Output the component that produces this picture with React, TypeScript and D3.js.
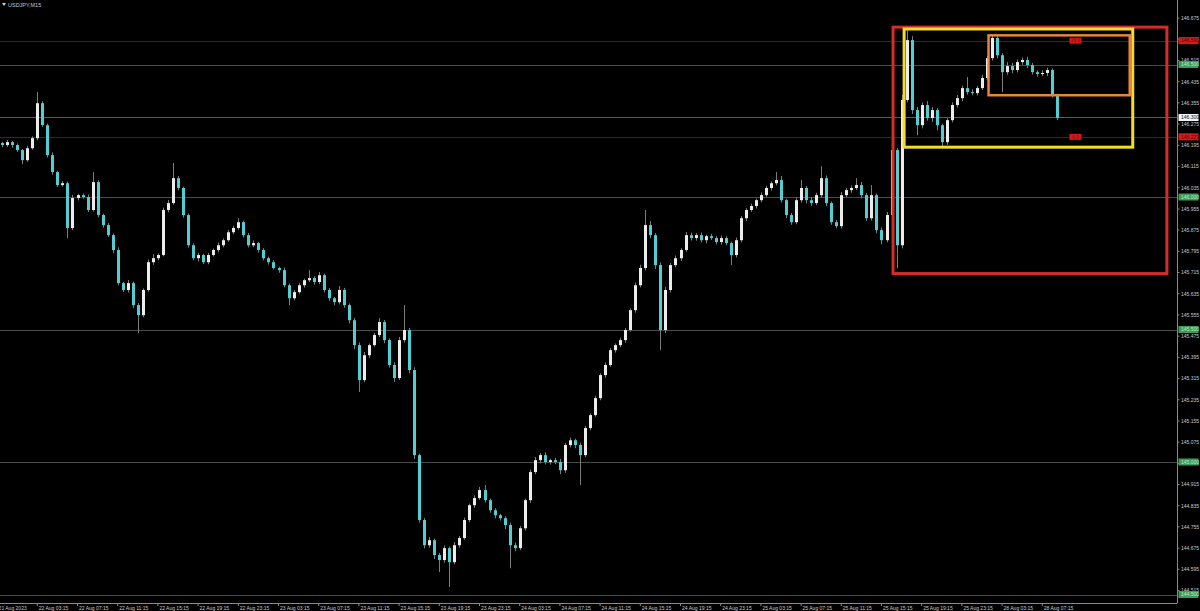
import React from "react";
import * as d3 from "d3";

// ---- DATA (USDJPY M15 chart, aggregated to 30-min candles) ----
const firstOpen = 146.196;

const closes = [
  146.204, 146.196, 146.207, 146.196, 146.177, 146.139, 146.184, 146.222,
  146.354, 146.271, 146.158, 146.094, 146.045, 146.052, 145.883, 145.996, 146.007, 146.000,
  145.951, 146.056, 145.932, 145.894, 145.856, 145.800, 145.675, 145.649, 145.675, 145.592,
  145.554, 145.649, 145.754, 145.769, 145.781, 145.951, 145.977, 146.071, 146.034, 145.932,
  145.818, 145.769, 145.781, 145.754, 145.781, 145.800, 145.818, 145.837, 145.867, 145.883,
  145.905, 145.856, 145.818, 145.826, 145.800, 145.769, 145.754, 145.732, 145.724, 145.667,
  145.618, 145.641, 145.667, 145.686, 145.694, 145.679, 145.705, 145.649, 145.618, 145.603,
  145.649, 145.592, 145.535, 145.441, 145.309, 145.403, 145.441, 145.479, 145.528, 145.460,
  145.366, 145.317, 145.460, 145.498, 145.347, 145.026, 144.781, 144.686, 144.705, 144.649,
  144.630, 144.675, 144.622, 144.686, 144.713, 144.781, 144.837, 144.864, 144.894, 144.856,
  144.818, 144.799, 144.788, 144.762, 144.686, 144.675, 144.750, 144.856, 144.962, 145.007,
  145.026, 145.000, 145.007, 145.000, 144.969, 145.064, 145.082, 145.064, 145.026, 145.128,
  145.177, 145.241, 145.328, 145.366, 145.422, 145.441, 145.460, 145.498, 145.573, 145.667,
  145.732, 145.894, 145.856, 145.743, 145.498, 145.649, 145.743, 145.769, 145.800, 145.856,
  145.845, 145.856, 145.837, 145.852, 145.845, 145.830, 145.845, 145.826, 145.781, 145.837,
  145.920, 145.951, 145.966, 145.988, 146.007, 146.034, 146.052, 146.064, 145.988, 145.932,
  145.905, 145.988, 146.034, 145.988, 145.977, 146.007, 146.071, 145.977, 145.905, 145.890,
  146.007, 146.026, 146.034, 146.045, 146.007, 145.920, 146.007, 145.875, 145.837, 145.932,
  146.177, 145.818, 146.366, 146.592, 146.328, 146.271, 146.347, 146.298, 146.328, 146.271,
  146.207, 146.290, 146.347, 146.373, 146.411, 146.396, 146.392, 146.411, 146.449, 146.524,
  146.600, 146.535, 146.471, 146.494, 146.479, 146.509, 146.517, 146.498, 146.471, 146.464,
  146.468, 146.479, 146.385, 146.298,
];

// upper / lower wick lengths in points (0.001)
const upWick = [
  6, 4, 8, 5, 6, 4, 9, 7,
  42, 8, 6, 10, 5, 8, 6, 12, 5, 6,
  9, 38, 7, 5, 8, 6, 10, 5, 12, 6,
  8, 6, 10, 15, 6, 9, 12, 57, 8, 5,
  6, 7, 9, 5, 8, 6, 10, 7, 9, 8,
  15, 6, 8, 10, 5, 7, 6, 8, 5, 10,
  6, 8, 9, 6, 30, 7, 12, 6, 8, 5,
  15, 8, 6, 9, 10, 12, 6, 8, 15, 8,
  6, 10, 12, 94, 8, 10, 6, 8, 12, 6,
  8, 10, 6, 12, 8, 9, 6, 10, 12, 19,
  6, 8, 5, 7, 9, 10, 8, 6, 9, 12,
  8, 10, 6, 9, 12, 8, 10, 6, 9, 8,
  6, 9, 7, 10, 8, 6, 9, 8, 7, 10,
  12, 57, 15, 8, 10, 12, 8, 10, 7, 12,
  9, 8, 10, 6, 9, 8, 10, 7, 6, 10,
  8, 7, 9, 6, 10, 8, 7, 30, 15, 6,
  8, 10, 30, 8, 12, 9, 45, 10, 6, 8,
  12, 8, 9, 26, 12, 8, 38, 6, 10, 12,
  19, 8, 19, 45, 15, 12, 10, 15, 12, 8,
  6, 8, 10, 12, 9, 42, 10, 8, 12, 9,
  11, 10, 8, 15, 12, 10, 9, 12, 8, 7,
  10, 9, 6, 5,
];
const dnWick = [
  5, 8, 6, 10, 7, 15, 6, 5,
  8, 6, 9, 10, 7, 6, 38, 8, 9, 6,
  8, 6, 9, 10, 7, 12, 9, 8, 10, 12,
  68, 8, 6, 10, 8, 5, 9, 6, 8, 10,
  9, 8, 12, 7, 8, 6, 9, 8, 6, 7,
  6, 9, 8, 7, 10, 8, 9, 6, 10, 8,
  26, 8, 6, 9, 7, 10, 8, 9, 10, 12,
  8, 10, 12, 15, 45, 8, 10, 6, 8, 12,
  10, 15, 8, 9, 12, 15, 10, 12, 9, 15,
  45, 10, 94, 8, 9, 6, 8, 10, 7, 9,
  10, 12, 9, 15, 87, 12, 8, 9, 10, 8,
  12, 9, 10, 8, 15, 10, 9, 12, 113, 8,
  9, 6, 8, 10, 7, 9, 8, 10, 6, 9,
  8, 9, 12, 15, 75, 12, 9, 8, 10, 7,
  9, 10, 8, 12, 7, 9, 10, 8, 38, 9,
  8, 10, 7, 9, 8, 6, 10, 8, 9, 12,
  10, 8, 9, 12, 10, 8, 9, 12, 10, 8,
  9, 7, 10, 8, 12, 10, 9, 12, 15, 8,
  10, 87, 12, 8, 15, 38, 12, 10, 15, 19,
  19, 10, 8, 9, 12, 10, 8, 9, 7, 10,
  9, 12, 75, 10, 12, 9, 10, 12, 9, 10,
  8, 12, 10, 8,
];
const firstBarIndex = -8;

const timeLabels = [
  "21 Aug 2023", "22 Aug 03:15", "22 Aug 07:15", "22 Aug 11:15", "22 Aug 15:15", "22 Aug 19:15",
  "22 Aug 23:15", "23 Aug 03:15", "23 Aug 07:15", "23 Aug 11:15", "23 Aug 15:15", "23 Aug 19:15",
  "23 Aug 23:15", "24 Aug 03:15", "24 Aug 07:15", "24 Aug 11:15", "24 Aug 15:15", "24 Aug 19:15",
  "24 Aug 23:15", "25 Aug 03:15", "25 Aug 07:15", "25 Aug 11:15", "25 Aug 15:15", "25 Aug 19:15",
  "25 Aug 23:15", "28 Aug 03:15", "28 Aug 07:15",
];
const timeLabelBars = [
  -8, 0, 8, 16, 24, 32, 40, 48, 56, 64, 72, 80, 88, 96, 104, 112, 120, 128, 136, 144, 152, 160,
  168, 176, 184, 192, 200,
];

const priceTicks = [
  "146.675", "146.595", "146.515", "146.435", "146.355", "146.275", "146.195", "146.115",
  "146.035", "145.955", "145.875", "145.795", "145.715", "145.635", "145.555", "145.475",
  "145.395", "145.315", "145.235", "145.155", "145.075", "144.995", "144.915", "144.835",
  "144.755", "144.675", "144.595", "144.515",
];

const levelPrices = [146.59, 146.5, 146.3, 146.227, 146.0, 145.5, 145.0, 144.5];
const levelKinds = ["red", "green", "white", "red", "green", "green", "green", "green"];

// annotation rectangles: [bar start, bar end], [price top, price bottom]
const boxNames = ["red", "yellow", "orange"];
const boxBarStart = [170.3, 172.5, 189.3];
const boxBarEnd = [224.8, 218.0, 217.4];
const boxPriceTop = [146.641, 146.634, 146.610];
const boxPriceBottom = [145.711, 146.188, 146.384];

const markerBars = [206.6, 206.6];
const markerPrices = [146.59, 146.227];
const markerTexts = ["29.9", "6.9"];

// ---- STYLE ----
const W = 1200;
const H = 611;
const AXIS_X = 1177;
const AXIS_Y = 603;
const FONT = "'Liberation Sans', 'DejaVu Sans', sans-serif";
const BULL = "#ececec";
const BEAR = "#4fcfd3";
const WICK = "#7d7d7d";
const GRID_GRAY = "#4a4a4a";
const GRID_RED = "#5e1616";
const boxColors: Record<string, string> = { red: "#d62b2b", yellow: "#f2dc2e", orange: "#e8843c" };
const boxWidths: Record<string, number> = { red: 3, yellow: 3, orange: 2.5 };

export default function App() {
  const x = d3.scaleLinear().domain([0, 200]).range([37.3, 1042.3]);
  const y = d3.scaleLinear().domain([144.5, 146.0]).range([594.5, 197]);

  const bars = closes.map((c, i) => {
    const o = i === 0 ? firstOpen : closes[i - 1];
    const hi = Math.max(o, c) + upWick[i] * 0.001;
    const lo = Math.min(o, c) - dnWick[i] * 0.001;
    return { j: i + firstBarIndex, o, c, hi, lo };
  });

  const bodyW = 3;

  return (
    <svg
      width={W}
      height={H}
      style={{ position: "absolute", left: 0, top: 0, background: "#000", display: "block" }}
      fontFamily={FONT}
    >
      <rect x={0} y={0} width={W} height={H} fill="#000" />

      {/* horizontal levels */}
      {levelPrices.map((p, i) => (
        <line
          key={"lv" + i}
          x1={0}
          x2={AXIS_X}
          y1={Math.round(y(p)) + 0.5}
          y2={Math.round(y(p)) + 0.5}
          stroke={levelKinds[i] === "red" ? GRID_RED : levelKinds[i] === "white" ? "#5a5a5a" : GRID_GRAY}
          strokeWidth={1}
        />
      ))}

      {/* candles */}
      {bars.map((b) => {
        const cx = x(b.j);
        const up = b.c >= b.o;
        const top = y(Math.max(b.o, b.c));
        const bot = y(Math.min(b.o, b.c));
        return (
          <g key={"b" + b.j}>
            <line
              x1={Math.round(cx) + 0.5}
              x2={Math.round(cx) + 0.5}
              y1={y(b.hi)}
              y2={y(b.lo)}
              stroke={WICK}
              strokeWidth={1}
            />
            <rect
              x={Math.round(cx) + 0.5 - bodyW / 2}
              y={top}
              width={bodyW}
              height={Math.max(1, bot - top)}
              fill={up ? BULL : BEAR}
            />
          </g>
        );
      })}

      {/* annotation rectangles */}
      {boxNames.map((n, i) => (
        <rect
          key={"box" + n}
          x={x(boxBarStart[i])}
          y={y(boxPriceTop[i])}
          width={x(boxBarEnd[i]) - x(boxBarStart[i])}
          height={y(boxPriceBottom[i]) - y(boxPriceTop[i])}
          fill="none"
          stroke={boxColors[n]}
          strokeWidth={boxWidths[n]}
        />
      ))}

      {/* small red markers */}
      {markerBars.map((m, i) => (
        <g key={"mk" + i}>
          <rect x={x(m) - 6} y={y(markerPrices[i]) - 3} width={12} height={6} fill="#d81818" />
          <text
            x={x(m)}
            y={y(markerPrices[i]) + 1.8}
            fontSize={4.5}
            fill="#7a0a0a"
            textAnchor="middle"
          >
            {markerTexts[i]}
          </text>
        </g>
      ))}

      {/* title */}
      <path d="M2,3 L6,3 L4,6 Z" fill="#cfcfcf" />
      <text x={8} y={6.5} fontSize={5.5} fill="#c8c8c8">
        USDJPY,M15
      </text>

      {/* right axis */}
      <rect x={AXIS_X + 0.5} y={0} width={W - AXIS_X} height={H} fill="#000" />
      <line x1={AXIS_X + 0.5} x2={AXIS_X + 0.5} y1={0} y2={AXIS_Y} stroke="#8a8a8a" strokeWidth={1} />
      {priceTicks.map((t) => {
        const yy = y(+t);
        return (
          <g key={"pt" + t}>
            <line x1={AXIS_X} x2={AXIS_X + 2.5} y1={yy} y2={yy} stroke="#8a8a8a" strokeWidth={1} />
            <text x={AXIS_X + 4} y={yy + 1.8} fontSize={5} fill="#c8c8c8">
              {t}
            </text>
          </g>
        );
      })}
      {levelPrices.map((p, i) => {
        const k = levelKinds[i];
        const fill = k === "red" ? "#d41c1c" : k === "green" ? "#3f9a5c" : "#f2f2f2";
        const tc = k === "red" ? "#5c0000" : k === "green" ? "#b7f0c0" : "#111";
        const yy = y(p);
        return (
          <g key={"pl" + i}>
            <rect x={AXIS_X + 1.5} y={yy - 3.5} width={20} height={7} fill={fill} />
            <text x={AXIS_X + 4} y={yy + 1.8} fontSize={5} fill={tc}>
              {p.toFixed(3)}
            </text>
          </g>
        );
      })}

      {/* bottom axis */}
      <rect x={0} y={AXIS_Y + 0.5} width={W} height={H - AXIS_Y} fill="#000" />
      <line x1={0} x2={AXIS_X + 0.5} y1={AXIS_Y + 0.5} y2={AXIS_Y + 0.5} stroke="#8a8a8a" strokeWidth={1} />
      {timeLabels.map((t, i) => {
        const xx = x(timeLabelBars[i]);
        return (
          <g key={"tl" + i}>
            <line x1={xx} x2={xx} y1={AXIS_Y} y2={AXIS_Y + 3} stroke="#8a8a8a" strokeWidth={1} />
            <text x={xx + 1.5} y={AXIS_Y + 6.8} fontSize={5} fill="#c8c8c8">
              {t}
            </text>
          </g>
        );
      })}
    </svg>
  );
}
